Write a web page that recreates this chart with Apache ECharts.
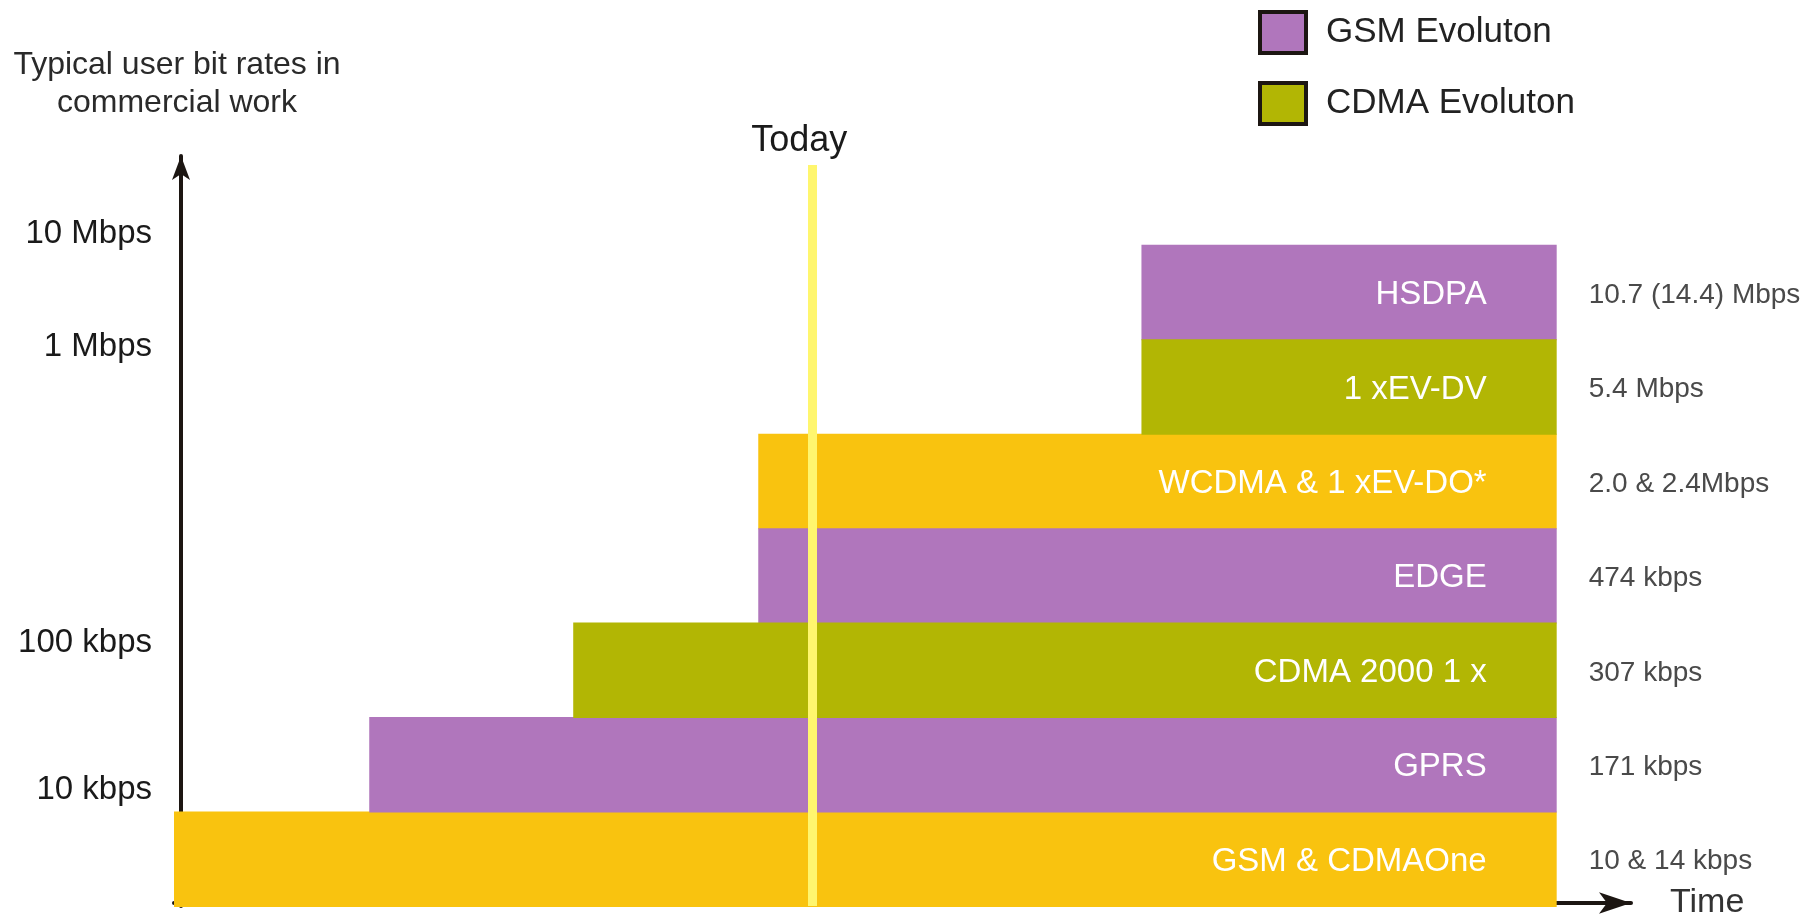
<!DOCTYPE html>
<html>
<head>
<meta charset="utf-8">
<script src="https://cdn.jsdelivr.net/npm/echarts@6/dist/echarts.min.js"></script>
<style>
html, body { margin: 0; padding: 0; background: #ffffff; }
#chart { width: 1814px; height: 920px; }
</style>
</head>
<body>
<div id="chart"></div>
<script>
// ---- data (rows listed bottom to top) ----
const categories = ['GSM & CDMAOne', 'GPRS', 'CDMA 2000 1 x', 'EDGE', 'WCDMA & 1 xEV-DO*', '1 xEV-DV', 'HSDPA'];
const bitRates = ['10 & 14 kbps', '171 kbps', '307 kbps', '474 kbps', '2.0 & 2.4Mbps', '5.4 Mbps', '10.7 (14.4) Mbps'];
const family = ['both', 'GSM', 'CDMA', 'GSM', 'both', 'CDMA', 'GSM'];
const startTime = [0, 13.4, 27.4, 40.1, 40.1, 66.4, 66.4];
const endTime = [94.9, 94.9, 94.9, 94.9, 94.9, 94.9, 94.9];
const todayTime = 43.8;
const todayTop = 7.845;
const yTickLabels = ['10 kbps', '100 kbps', '1 Mbps', '10 Mbps'];
const yTickPos = [1.23, 2.79, 5.92, 7.12];
const legendNames = ['GSM Evoluton', 'CDMA Evoluton'];
const yTitle = 'Typical user bit rates in\ncommercial work';
const xTitle = 'Time';
const todayLabel = 'Today';

const FONT = '"Liberation Sans", Arial, sans-serif';
const colors = { GSM: '#B076BC', CDMA: '#B2B604', both: '#F9C30F' };
const seriesNames = { GSM: legendNames[0], CDMA: legendNames[1], both: 'GSM & CDMA' };

function rowsOf(fam) {
  const out = [];
  for (let i = 0; i < categories.length; i++) {
    if (family[i] === fam) out.push([startTime[i], endTime[i], i]);
  }
  return out;
}

function renderItem(params, api) {
  const row = api.value(2);
  const p0 = api.coord([api.value(0), row + 1]);
  const p1 = api.coord([api.value(1), row]);
  const mid = (p0[1] + p1[1]) / 2 + 3;
  return {
    type: 'group',
    children: [
      { type: 'rect', shape: { x: p0[0], y: p0[1], width: p1[0] - p0[0], height: p1[1] - p0[1] + 1 },
        style: { fill: api.visual('color') } },
      { type: 'text', style: { text: categories[row], x: p1[0] - 70, y: mid, align: 'right', verticalAlign: 'middle',
        fill: '#ffffff', font: '33px ' + FONT } },
      { type: 'text', style: { text: bitRates[row], x: p1[0] + 32, y: mid, align: 'left', verticalAlign: 'middle',
        fill: '#4a4a4a', font: '28px ' + FONT } }
    ]
  };
}

function makeSeries(fam, z) {
  return {
    name: seriesNames[fam],
    type: 'custom',
    renderItem: renderItem,
    clip: false,
    silent: true,
    z: z,
    itemStyle: { color: colors[fam] },
    encode: { x: [0, 1], y: 2 },
    data: rowsOf(fam)
  };
}

const seriesList = [makeSeries('both', 2), makeSeries('GSM', 2), makeSeries('CDMA', 2)];
seriesList[0].markLine = {
  silent: true,
  symbol: ['none', 'none'],
  animation: false,
  lineStyle: { color: '#FFF66E', width: 9, type: 'solid' },
  label: { show: true, position: 'start', formatter: todayLabel, fontSize: 36, color: '#1a1a1a',
    fontFamily: FONT, distance: 6, padding: [0, 26, 0, 0] },
  emphasis: { disabled: true },
  data: [[{ coord: [todayTime, todayTop] }, { coord: [todayTime, 0] }]]
};

const chart = echarts.init(document.getElementById('chart'), null, { renderer: 'canvas' });
chart.setOption({
  animation: false,
  backgroundColor: '#ffffff',
  textStyle: { fontFamily: FONT },
  legend: {
    data: legendNames,
    orient: 'vertical',
    left: 1258,
    top: 10,
    padding: 0,
    icon: 'rect',
    itemWidth: 46,
    itemHeight: 41,
    itemGap: 26,
    selectedMode: false,
    itemStyle: { borderColor: '#1c1612', borderWidth: 4 },
    textStyle: { fontSize: 35, color: '#222222', fontFamily: FONT, lineHeight: 41, padding: [0, 0, 0, 15] }
  },
  grid: { left: 174, right: 183, top: 156, bottom: 12, containLabel: false },
  xAxis: {
    type: 'value',
    min: 0,
    max: 100,
    offset: -3,
    axisLine: { show: true, onZero: false, symbol: ['none', 'arrow'], symbolSize: [16, 32],
      lineStyle: { color: '#1c1612', width: 4 } },
    axisTick: { show: false },
    axisLabel: { show: false },
    splitLine: { show: false },
    name: xTitle,
    nameLocation: 'end',
    nameGap: 39,
    nameTextStyle: { fontSize: 34, color: '#333333', fontFamily: FONT, align: 'left', verticalAlign: 'middle', padding: [0, 0, 2, 0] }
  },
  yAxis: {
    type: 'value',
    min: 0,
    max: 7.94,
    offset: -7,
    axisLine: { show: true, onZero: false, symbol: ['none', 'arrow'], symbolSize: [13.5, 24],
      lineStyle: { color: '#1c1612', width: 4 } },
    axisTick: { show: false },
    splitLine: { show: false },
    axisLabel: {
      show: true,
      customValues: yTickPos,
      margin: 29,
      fontSize: 33,
      color: '#1a1a1a',
      fontFamily: FONT,
      formatter: function (v) {
        let best = 0;
        for (let i = 0; i < yTickPos.length; i++) {
          if (Math.abs(yTickPos[i] - v) < Math.abs(yTickPos[best] - v)) best = i;
        }
        return yTickLabels[best];
      }
    },
    name: yTitle,
    nameLocation: 'end',
    nameGap: 34,
    nameTextStyle: { fontSize: 32, lineHeight: 38, color: '#2a2a2a', fontFamily: FONT, align: 'center', padding: [0, 8, 0, 0] }
  },
  series: seriesList
});
</script>
</body>
</html>
